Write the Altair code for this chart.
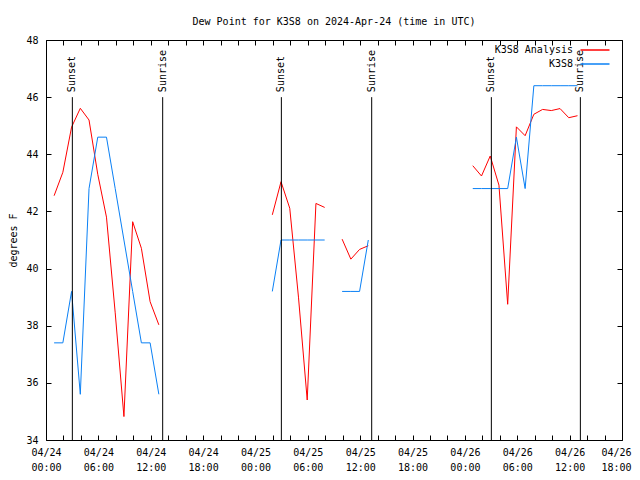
import altair as alt
import pandas as pd

# hours since 2024-04-24 00:00 UTC
seg1_hours = [0.93, 1.93, 2.93, 3.93, 4.93, 5.93, 6.93, 7.93, 8.93, 9.93, 10.93, 11.93, 12.93]
seg1_analysis = [42.55, 43.37, 44.95, 45.61, 45.2, 43.3, 41.8, 38.45, 34.82, 41.64, 40.71, 38.84, 38.03]
seg1_obs = [37.4, 37.4, 39.2, 35.6, 42.8, 44.6, 44.6, 42.8, 41.0, 39.2, 37.4, 37.4, 35.6]

seg2_hours = [25.93, 26.93, 27.93, 28.93, 29.93, 30.93, 31.93]
seg2_analysis = [41.88, 43.04, 42.11, 39.0, 35.4, 42.28, 42.14]
seg2_obs = [39.2, 41.0, 41.0, 41.0, 41.0, 41.0, 41.0]

seg3_hours = [33.93, 34.93, 35.93, 36.93]
seg3_analysis = [41.03, 40.33, 40.67, 40.8]
seg3_obs = [39.2, 39.2, 39.2, 41.0]

seg4_hours = [48.9, 49.9, 50.9, 51.9, 52.9, 53.9, 54.9, 55.9, 56.9, 57.9, 58.9, 59.9, 60.9]
seg4_analysis = [43.6, 43.24, 43.94, 42.92, 38.75, 44.96, 44.65, 45.4, 45.57, 45.53, 45.6, 45.28, 45.35]
seg4_obs = [42.8, 42.8, 42.8, 42.8, 42.8, 44.6, 42.8, 46.4, 46.4, 46.4, 46.4, 46.4, 46.4]

sunset_hours = [3.02, 26.97, 51.03]
sunrise_hours = [13.37, 37.32, 61.23]

series_names = ["K3S8 Analysis", "K3S8"]
series_colors = ["#ff0000", "#0a80f5"]

x_ticks = list(range(0, 67, 2))
y_ticks = [34, 36, 38, 40, 42, 44, 46, 48]

rows = []
segs = [(seg1_hours, seg1_analysis, seg1_obs), (seg2_hours, seg2_analysis, seg2_obs),
        (seg3_hours, seg3_analysis, seg3_obs), (seg4_hours, seg4_analysis, seg4_obs)]
for si, (hs, an, ob) in enumerate(segs):
    for h, a, o in zip(hs, an, ob):
        rows.append({"hours": h, "dewpt": a, "series": series_names[0], "seg": si})
        rows.append({"hours": h, "dewpt": o, "series": series_names[1], "seg": si})
df = pd.DataFrame(rows)

sun = pd.DataFrame(
    [{"hours": h, "label": "Sunset"} for h in sunset_hours]
    + [{"hours": h, "label": "Sunrise"} for h in sunrise_hours]
)

FONT = "DejaVu Sans Mono"

x_scale = alt.Scale(domain=[0, 66], nice=False, zero=False)
y_scale = alt.Scale(domain=[34, 48], nice=False, zero=False)

label_expr = (
    "datum.value % 6 == 0 ? ['04/' + (24 + floor(datum.value / 24)), "
    "(datum.value % 24 < 10 ? '0' : '') + (datum.value % 24) + ':00'] : ''"
)

bottom_axis = alt.Axis(values=x_ticks, labelExpr=label_expr, tickSize=5, offset=-5,
                       labelPadding=7, domain=False, grid=False, title=None,
                       labelFlush=False, labelOverlap=False, labelLineHeight=15,
                       labelOffset={"condition": {"test": "datum.value >= 66", "value": -6},
                                    "value": 0})
left_axis = alt.Axis(values=y_ticks, tickSize=5, offset=-5, labelPadding=8, domain=False,
                     grid=False, title="degrees F", titleAngle=270, titleX=-38, titleY=200,
                     titleAlign="center", titleBaseline="middle", labelFlush=False)
top_axis = alt.Axis(orient="top", values=x_ticks, labels=False, tickSize=5, offset=-5,
                    domain=False, grid=False, title=None)
right_axis = alt.Axis(orient="right", values=y_ticks, labels=False, tickSize=5, offset=-5,
                      domain=False, grid=False, title=None)

lines = alt.Chart(df).mark_line(strokeWidth=1).encode(
    x=alt.X("hours:Q", scale=x_scale, axis=bottom_axis),
    y=alt.Y("dewpt:Q", scale=y_scale, axis=left_axis),
    color=alt.Color("series:N", scale=alt.Scale(domain=series_names, range=series_colors),
                    legend=alt.Legend(title=None, orient="none", legendX=543, legendY=4,
                                      symbolType="M-2.9,0H2.9", symbolSize=100,
                                      symbolStrokeWidth=1.5, labelAlign="right",
                                      labelOffset={"expr": "-28"},
                                      rowPadding=3, labelFont=FONT,
                                      labelFontSize=10, padding=0)),
    detail="seg:N",
    order="hours:Q",
)

rules = alt.Chart(sun).mark_rule(color="black", strokeWidth=1).encode(
    x=alt.X("hours:Q", scale=x_scale, axis=top_axis),
    y=alt.YDatum(46, axis=right_axis),
    y2=alt.Y2Datum(34),
)

labels = alt.Chart(sun).mark_text(angle=270, align="left", baseline="middle", dx=5,
                                   font=FONT, fontSize=10, color="black").encode(
    x=alt.X("hours:Q", scale=x_scale, axis=None),
    y=alt.YDatum(46, axis=None),
    text="label:N",
)

chart = alt.layer(lines, rules, labels).resolve_axis(
    x="independent", y="independent"
).properties(
    width=576, height=400,
    autosize=alt.AutoSizeParams(type="none"),
    padding={"left": 38, "top": 32, "right": 10, "bottom": 32},
    title=alt.TitleParams("Dew Point for K3S8 on 2024-Apr-24 (time in UTC)", font=FONT,
                          fontSize=10, fontWeight="normal", offset=8, frame="group",
                          anchor="middle", color="black"),
).configure_view(stroke="black", strokeWidth=1).configure_axis(
    labelFont=FONT, titleFont=FONT, labelFontSize=10, titleFontSize=10,
    labelColor="black", titleColor="black", tickColor="black", titleFontWeight="normal",
)

chart.save("out.html", embed_options={"renderer": "svg", "actions": False})
